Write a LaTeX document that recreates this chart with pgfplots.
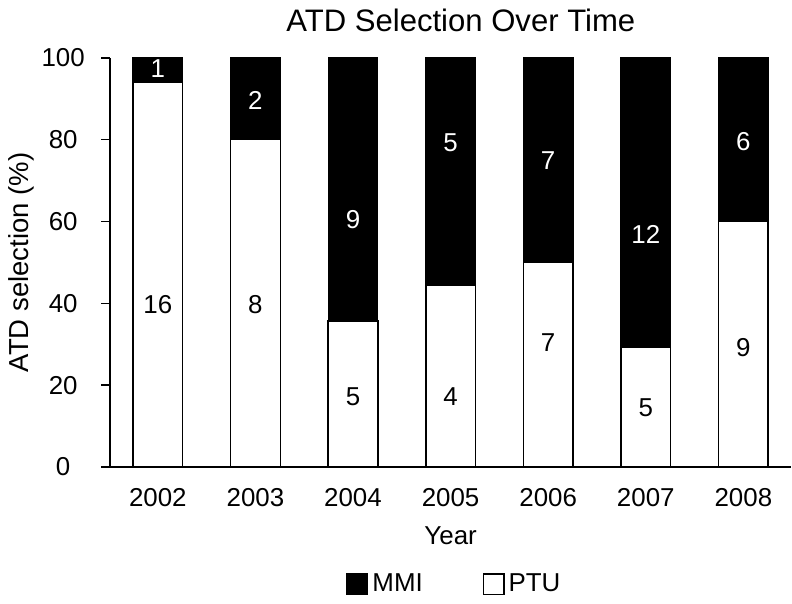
\documentclass[border=0pt]{standalone}
\usepackage{pgfplots}
\pgfplotsset{compat=1.18}
\usepackage{fontspec}
\setmainfont{Liberation Sans}

\begin{document}
\fontsize{13}{15.6}\selectfont
\begin{tikzpicture}
\begin{axis}[
    scale only axis,
    width=342pt,
    height=205.4pt,
    xmin=-0.49, xmax=6.49,
    ymin=0, ymax=100,
    axis lines*=left,
    axis line style={line width=0.8pt},
    xtick={0,...,6},
    xticklabels={2002,2003,2004,2005,2006,2007,2008},
    x tick style={draw=none},
    ytick={0,20,...,100},
    tick align=outside,
    major tick length=4.5pt,
    y tick style={line width=0.8pt, black},
    /pgf/number format/assume math mode=true,
    yticklabel style={anchor=center, xshift=-19pt},
    xticklabel style={anchor=center, yshift=-11pt},
    title={ATD Selection Over Time},
    title style={at={(axis description cs:0.515,1.0925)}, anchor=center, yshift=-6pt,
        font=\fontsize{15.6}{18}\selectfont},
    xlabel={Year},
    xlabel style={at={(axis description cs:0.5,-0.168)}, anchor=center},
    ylabel={ATD selection (\%)},
    ylabel style={at={(axis description cs:-0.13,0.5)}, anchor=center,
        font=\fontsize{13.8}{16}\selectfont},
    legend columns=2,
    legend style={draw=none, at={(axis description cs:0.507,-0.287)}, anchor=center,
        /tikz/every even column/.append style={column sep=28pt},
        cells={anchor=west, inner xsep=6pt}},
    legend image code/.code={\draw[#1, line width=0.6pt] (0pt,-5.2pt) rectangle (10.5pt,5.2pt);},
]

% MMI shown as full-height black bars, PTU share (%) drawn in white over them
\addplot[ybar, bar width=0.51, bar shift=0pt, fill=black, draw=black, line width=0.6pt]
    coordinates {(0,100) (1,100) (2,100) (3,100) (4,100) (5,100) (6,100)};
\addlegendentry{MMI}

% PTU percentage: 16/17, 8/10, 5/14, 4/9, 7/14, 5/17, 9/15
\addplot[ybar, bar width=0.51, bar shift=0pt, fill=white, draw=black, line width=0.8pt]
    coordinates {(0,94.1) (1,80.0) (2,35.7) (3,44.4) (4,50.0) (5,29.4) (6,60.0)};
\addlegendentry{PTU}

% counts in MMI segments
\addplot[draw=none, mark=none, forget plot, nodes near coords, point meta=explicit symbolic,
    nodes near coords style={white, anchor=center}]
    coordinates {(0,97.3)[1] (1,89.7)[2] (2,60.5)[9] (3,79.3)[5] (4,74.9)[7] (5,56.8)[12] (6,79.5)[6]};

% counts in PTU segments
\addplot[draw=none, mark=none, forget plot, nodes near coords, point meta=explicit symbolic,
    nodes near coords style={black, anchor=center}]
    coordinates {(0,39.8)[16] (1,39.8)[8] (2,17.1)[5] (3,17.1)[4] (4,30.5)[7] (5,14.6)[5] (6,29.3)[9]};

\end{axis}
\end{tikzpicture}
\end{document}
